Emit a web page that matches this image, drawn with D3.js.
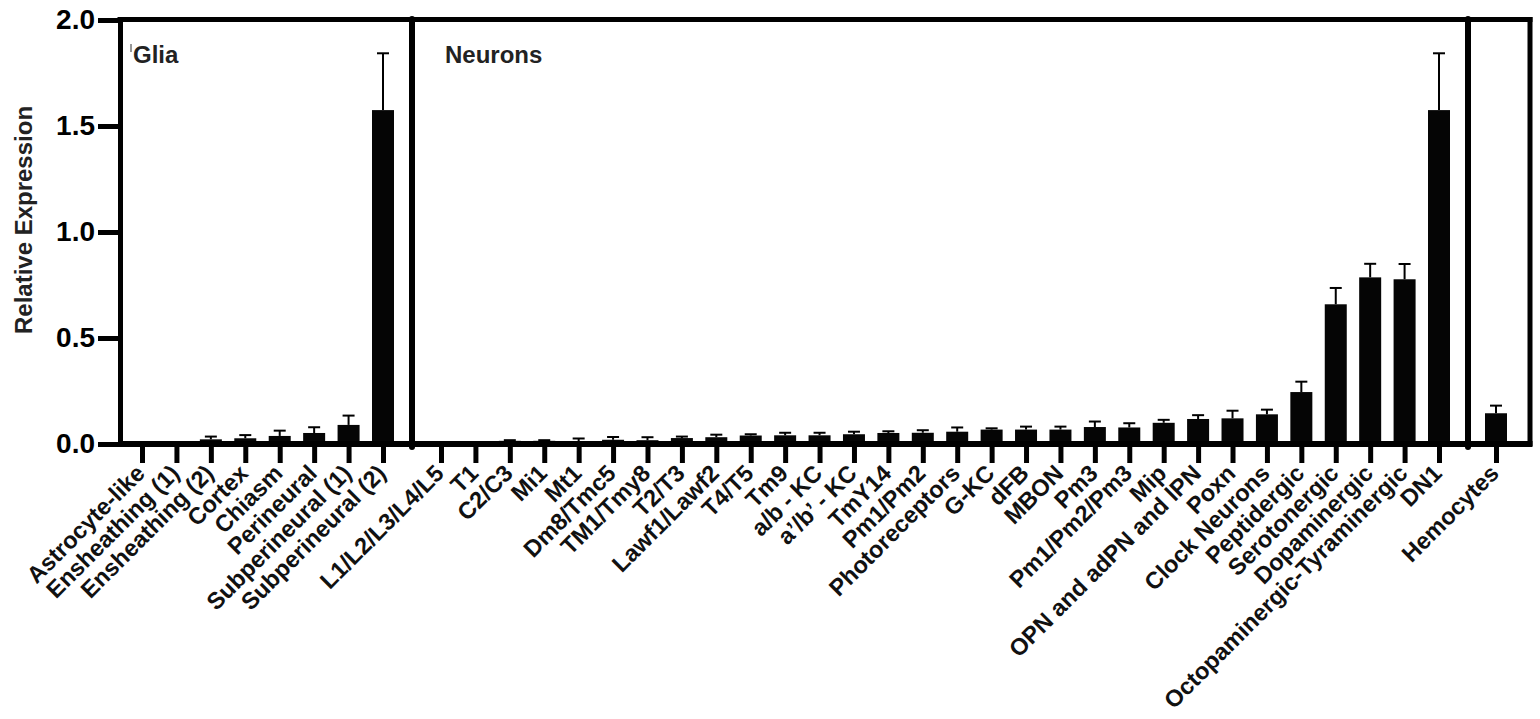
<!DOCTYPE html>
<html>
<head>
<meta charset="utf-8">
<script src="https://cdn.jsdelivr.net/npm/d3@7/dist/d3.min.js"></script>
<style>
    body { margin: 0; background: #fff; }
    svg { display: block; font-family: "Liberation Sans", Arial, sans-serif; font-weight: bold; }
</style>
</head>
<body>
<div id="chart"></div>
<script>
// Glia
var gliaLabels = ["Astrocyte-like", "Ensheathing (1)", "Ensheathing (2)", "Cortex", "Chiasm",
    "Perineural", "Subperineural (1)", "Subperineural (2)"];
var gliaMeans = [0, 0, 0.022, 0.027, 0.038, 0.052, 0.09, 1.575];
var gliaSem = [0, 0, 0.013, 0.015, 0.025, 0.027, 0.044, 0.268];

// Neurons
var neuronLabels = ["L1/L2/L3/L4/L5", "T1", "C2/C3", "Mi1", "Mt1", "Dm8/Tmc5", "TM1/Tmy8", "T2/T3",
    "Lawf1/Lawf2", "T4/T5", "Tm9", "a/b - KC", "a\u2019/b\u2019 - KC", "TmY14", "Pm1/Pm2",
    "Photoreceptors", "G-KC", "dFB", "MBON", "Pm3", "Pm1/Pm2/Pm3", "Mip", "OPN and adPN and lPN",
    "Poxn", "Clock Neurons", "Peptidergic", "Serotonergic", "Dopaminergic",
    "Octopaminergic-Tyraminergic", "DN1"];
var neuronMeans = [0, 0, 0.015, 0.015, 0.008, 0.02, 0.018, 0.028, 0.032, 0.04, 0.041, 0.041, 0.046,
    0.052, 0.053, 0.058, 0.068, 0.068, 0.068, 0.08, 0.078, 0.1, 0.118, 0.121, 0.14, 0.245, 0.659,
    0.786, 0.777, 1.575];
var neuronSem = [0, 0, 0.003, 0.003, 0.018, 0.013, 0.014, 0.007, 0.012, 0.006, 0.012, 0.012, 0.012,
    0.008, 0.012, 0.02, 0.006, 0.014, 0.014, 0.026, 0.02, 0.014, 0.018, 0.036, 0.022, 0.049, 0.077,
    0.064, 0.072, 0.268];

// Hemocytes
var hemoLabels = ["Hemocytes"];
var hemoMeans = [0.145];
var hemoSem = [0.036];

var yTicks = [0, 0.5, 1.0, 1.5, 2.0];

function init() {
    var w = 1540,
        h = 719;
    var left = 120, right = 1530, top = 20, bottom = 444;
    var barW = 22;

    var svg = d3.select("#chart")
        .append("svg")
        .attr("width", w)
        .attr("height", h);

    var yScale = d3.scaleLinear().domain([0, 2]).range([bottom, top]);

    // each group gets its own point scale
    var groups = [
        { labels: gliaLabels, means: gliaMeans, sem: gliaSem, range: [142, 383] },
        { labels: neuronLabels, means: neuronMeans, sem: neuronSem, range: [441, 1439] },
        { labels: hemoLabels, means: hemoMeans, sem: hemoSem, range: [1462, 1530] }
    ];

    groups.forEach(function (g) {
        var xScale = d3.scalePoint().domain(g.labels).range(g.range).padding(0);
        var rows = g.labels.map(function (d, i) {
            return { label: d, mean: g.means[i], sem: g.sem[i] };
        });

        // bars
        svg.append("g")
            .selectAll("rect")
            .data(rows)
            .enter()
            .append("rect")
            .attr("x", d => xScale(d.label) - barW / 2)
            .attr("y", d => yScale(d.mean))
            .attr("width", barW)
            .attr("height", d => bottom - yScale(d.mean))
            .attr("fill", "#050505");

        // error bars (upper only)
        var err = svg.append("g")
            .selectAll("g")
            .data(rows.filter(d => d.sem > 0))
            .enter()
            .append("g")
            .attr("stroke", "#000")
            .attr("stroke-width", 2);
        err.append("line")
            .attr("x1", d => xScale(d.label))
            .attr("x2", d => xScale(d.label))
            .attr("y1", d => yScale(d.mean))
            .attr("y2", d => yScale(d.mean + d.sem));
        err.append("line")
            .attr("x1", d => xScale(d.label) - 6)
            .attr("x2", d => xScale(d.label) + 6)
            .attr("y1", d => yScale(d.mean + d.sem))
            .attr("y2", d => yScale(d.mean + d.sem));

        // x axis ticks + rotated labels
        var ax = svg.append("g")
            .attr("transform", "translate(0," + bottom + ")")
            .call(d3.axisBottom(xScale).tickSize(19).tickSizeOuter(0));
        ax.select(".domain").remove();
        ax.selectAll(".tick line").attr("stroke", "#000").attr("stroke-width", 5);
        ax.selectAll("text")
            .attr("x", 0)
            .attr("y", 0)
            .attr("dy", "0.71em")
            .attr("transform", "translate(-8,19) rotate(-45)")
            .style("text-anchor", "end")
            .attr("fill", "#111")
            .attr("font-size", "23.5px")
            .attr("font-weight", "bold");
    });

    // frame
    svg.append("line").attr("x1", left - 2.5).attr("x2", right + 2.5).attr("y1", top - 0.5).attr("y2", top - 0.5)
        .attr("stroke", "#000").attr("stroke-width", 5);
    svg.append("line").attr("x1", right).attr("x2", right).attr("y1", top - 3).attr("y2", bottom + 2)
        .attr("stroke", "#000").attr("stroke-width", 5);
    svg.append("line").attr("x1", left).attr("x2", right + 2.5).attr("y1", bottom).attr("y2", bottom)
        .attr("stroke", "#000").attr("stroke-width", 6);

    // group dividers
    [412, 1468].forEach(function (x) {
        svg.append("line").attr("x1", x).attr("x2", x).attr("y1", top - 1).attr("y2", bottom + 3)
            .attr("stroke", "#000").attr("stroke-width", 6).attr("stroke-linecap", "round");
    });

    // y axis
    var yAxis = svg.append("g")
        .attr("transform", "translate(" + left + ",0)")
        .call(d3.axisLeft(yScale).tickValues(yTicks).tickFormat(d3.format(".1f"))
            .tickSize(22).tickSizeOuter(0).tickPadding(3));
    yAxis.select(".domain").attr("stroke", "#000").attr("stroke-width", 5).attr("stroke-linecap", "square");
    yAxis.selectAll(".tick line").attr("stroke", "#000").attr("stroke-width", 5);
    yAxis.selectAll("text")
        .attr("fill", "#000")
        .attr("font-size", "28px")
        .attr("font-weight", "bold");

    svg.append("text")
        .attr("transform", "translate(32,220) rotate(-90)")
        .attr("text-anchor", "middle")
        .attr("font-size", "24px")
        .attr("fill", "#222")
        .text("Relative Expression");

    // group titles
    svg.append("line").attr("x1", 131).attr("x2", 131).attr("y1", 44).attr("y2", 52)
        .attr("stroke", "#333").attr("stroke-width", 1);
    svg.append("text").attr("x", 133).attr("y", 63).attr("font-size", "24px").attr("fill", "#222").text("Glia");
    svg.append("text").attr("x", 445).attr("y", 63).attr("font-size", "24px").attr("fill", "#222").text("Neurons");
}

window.onload = init;
</script>
</body>
</html>
